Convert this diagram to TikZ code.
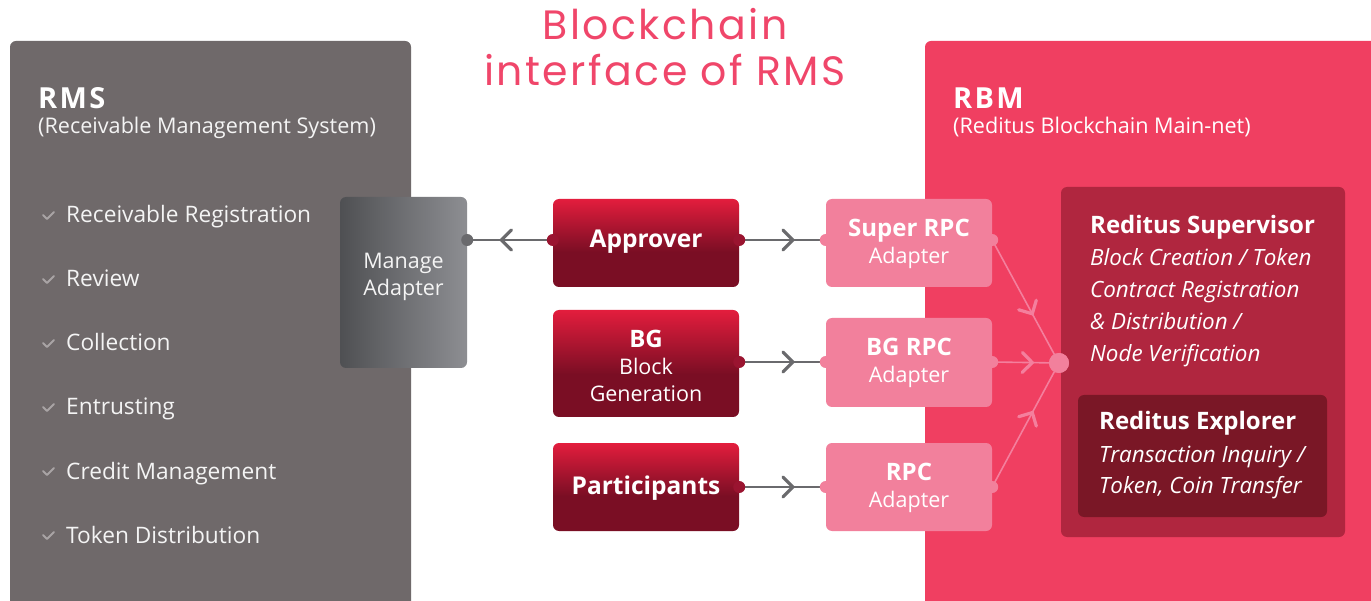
\documentclass[tikz,border=0pt]{standalone}
\usepackage{fontspec}
\setmainfont{Open Sans}
\newfontfamily\titlefont[LetterSpace=6]{Poppins}
\newfontfamily\rmshead[LetterSpace=8]{Open Sans}
\usetikzlibrary{decorations.markings}
\definecolor{rmsgray}{HTML}{6F696A}
\definecolor{rbmpink}{HTML}{F03F61}
\definecolor{supred}{HTML}{B0263F}
\definecolor{expred}{HTML}{7A1726}
\definecolor{rpcpink}{HTML}{F2809C}
\definecolor{brred}{HTML}{E31D3D}
\definecolor{dkred}{HTML}{7A0E24}
\definecolor{dotred}{HTML}{9A1430}
\definecolor{mgdark}{HTML}{4F5053}
\definecolor{mglight}{HTML}{8D8E92}
\definecolor{linegray}{HTML}{6A6A6D}
\definecolor{titlepink}{HTML}{F0466A}
\definecolor{checkgray}{HTML}{A9A4A5}
\definecolor{pinkline}{HTML}{F47F9D}
\definecolor{offwhite}{HTML}{F4F4F4}
\pgfdeclareverticalshading{redgrad}{100bp}{color(0bp)=(dkred); color(25bp)=(dkred); color(45bp)=(dkred); color(75bp)=(brred); color(100bp)=(brred)}
\newcommand\fsz[1]{\fontsize{#1}{#1}\selectfont}
\begin{document}
\begin{tikzpicture}[x=1pt,y=-1pt,
  panel/.style={rounded corners=6, inner sep=0, draw=none},
  redbox/.style={rounded corners=6, inner sep=0, shading=redgrad, minimum width=186},
  rpcbox/.style={rounded corners=6, inner sep=0, fill=rpcpink, minimum width=166},
  txt/.style={inner sep=0, text=white, font=\fsz{21.5}},
  btxt/.style={inner sep=0, text=white, font=\fsz{24}\bfseries},
  item/.style={inner sep=0, anchor=base west, text=offwhite, font=\fsz{22.7}},
  itxt/.style={inner sep=0, anchor=base west, text=white, font=\fsz{22.4}\itshape},
  checkm/.style={draw=checkgray, line width=1.8, line cap=round, line join=round},
  grayline/.style={draw=linegray, line width=2},
  pinkl/.style={draw=pinkline, line width=1.6},
  chev/.style={postaction={decorate}, decoration={markings, mark=at position #1 with {\draw[line width=3.2, line cap=round, line join=miter] (-10,-10) -- (0,0) -- (-10,10);}}},
  graychev/.style={grayline, chev=#1, color=linegray},
  pinkchev/.style={pinkl, chev=#1, color=pinkline}
]
\useasboundingbox (0,0) rectangle (1371,601);
\clip (0,0) rectangle (1371,601);
\fill[white] (0,0) rectangle (1371,601);

% title
\node[inner sep=0, anchor=base, text=titlepink, font=\titlefont\fsz{41}] (title1) at (665,40) {Blockchain};
\node[inner sep=0, anchor=base, text=titlepink, font=\titlefont\fsz{41}] (title2) at (665,86) {interface of RMS};

% RMS panel
\node[panel, fill=rmsgray, minimum width=401, minimum height=580] (rms) at (210.5,331) {};
\node[inner sep=0, anchor=base west, text=white, font=\rmshead\fsz{29}\bfseries] (rmsh) at (38,109) {RMS};
\node[item, font=\fsz{21.6}] (rmss) at (38,134) {(Receivable Management System)};
\foreach \yb/\t [count=\k] in {223/Receivable Registration, 287/Review, 351/Collection, 415/Entrusting, 479/Credit Management, 543/Token Distribution} {
  \node[item] (li\k) at (66,\yb) {\t};
  \draw[checkm] (43,\yb-8) -- (47,\yb-4) -- (54,\yb-11);
}

% RBM panel
\node[panel, fill=rbmpink, minimum width=456, minimum height=580] (rbm) at (1153,331) {};
\node[inner sep=0, anchor=base west, text=white, font=\rmshead\fsz{29}\bfseries] (rbmh) at (953,109) {RBM};
\node[item, text=white, font=\fsz{21.6}] (rbms) at (953,134) {(Reditus Blockchain Main-net)};

% Supervisor & Explorer
\node[panel, fill=supred, minimum width=284, minimum height=350] (sup) at (1203,362) {};
\node[btxt, anchor=base west] (supt) at (1090,234) {Reditus Supervisor};
\node[itxt] (sup1) at (1090,266) {Block Creation / Token};
\node[itxt] (sup2) at (1090,298) {Contract Registration};
\node[itxt] (sup3) at (1090,330) {\& Distribution /};
\node[itxt] (sup4) at (1090,362) {Node Verification};
\node[panel, fill=expred, minimum width=249, minimum height=122] (exp) at (1202.5,456) {};
\node[btxt, anchor=base west] (expt) at (1099,430) {Reditus Explorer};
\node[itxt] (exp1) at (1099,462) {Transaction Inquiry /};
\node[itxt] (exp2) at (1099,493) {Token, Coin Transfer};

% Manage Adapter
\node[panel, left color=mgdark, right color=mglight, minimum width=127, minimum height=171] (mgr) at (403.5,282.5) {};
\node[txt, anchor=base, text=offwhite] (mgr1) at (403.5,269) {Manage};
\node[txt, anchor=base, text=offwhite] (mgr2) at (403.5,296) {Adapter};

% red boxes
\node[redbox, minimum height=88] (appr) at (646,243) {};
\node[btxt, anchor=base, font=\fsz{24.5}\bfseries] (apprt) at (646,248) {Approver};
\node[redbox, minimum height=107] (bg) at (646,363.5) {};
\node[btxt, anchor=base] (bgt) at (646,348) {BG};
\node[txt, anchor=base] (bg1) at (646,375) {Block};
\node[txt, anchor=base] (bg2) at (646,402) {Generation};
\node[redbox, minimum height=88] (part) at (646,487) {};
\node[btxt, anchor=base, font=\fsz{24.5}\bfseries] (partt) at (646,494) {Participants};

% RPC boxes
\node[rpcbox, minimum height=88] (srpc) at (909,243) {};
\node[btxt, anchor=base] (srpct) at (909,237) {Super RPC};
\node[txt, anchor=base] (srpc1) at (909,264) {Adapter};
\node[rpcbox, minimum height=89] (bgrpc) at (909,362.5) {};
\node[btxt, anchor=base] (bgrpct) at (909,356) {BG RPC};
\node[txt, anchor=base] (bgrpc1) at (909,383) {Adapter};
\node[rpcbox, minimum height=88] (rpc) at (909,487) {};
\node[btxt, anchor=base] (rpct) at (909,480) {RPC};
\node[txt, anchor=base] (rpc1) at (909,507) {Adapter};

% hub
\node[circle, fill=rpcpink, minimum size=20, inner sep=0] (hub) at (1059,363) {};

% row levels
\coordinate (r1) at (0,240);
\coordinate (r2) at (0,362);
\coordinate (r3) at (0,487);

% connectors
\draw[graychev=0.6] (appr.west |- r1) -- (mgr.east |- r1);
\draw[graychev=0.62] (appr.east |- r1) -- (srpc.west |- r1);
\draw[graychev=0.62] (bg.east |- r2) -- (bgrpc.west |- r2);
\draw[graychev=0.62] (part.east |- r3) -- (rpc.west |- r3);
\draw[pinkchev=0.6] (srpc.east |- r1) -- (hub.center);
\draw[pinkchev=0.6] (bgrpc.east |- r2) -- (hub.center);
\draw[pinkchev=0.6] (rpc.east |- r3) -- (hub.center);
\fill[rpcpink] (hub) circle (10);

% end dots
\fill[linegray] (mgr.east |- r1) circle (6);
\fill[dotred] (appr.west |- r1) circle (6);
\fill[dotred] (appr.east |- r1) circle (6);
\fill[dotred] (bg.east |- r2) circle (6);
\fill[dotred] (part.east |- r3) circle (6);
\fill[rpcpink] (srpc.west |- r1) circle (6);
\fill[rpcpink] (bgrpc.west |- r2) circle (6);
\fill[rpcpink] (rpc.west |- r3) circle (6);
\fill[rpcpink] (srpc.east |- r1) circle (6);
\fill[rpcpink] (bgrpc.east |- r2) circle (6);
\fill[rpcpink] (rpc.east |- r3) circle (6);
\end{tikzpicture}
\end{document}
